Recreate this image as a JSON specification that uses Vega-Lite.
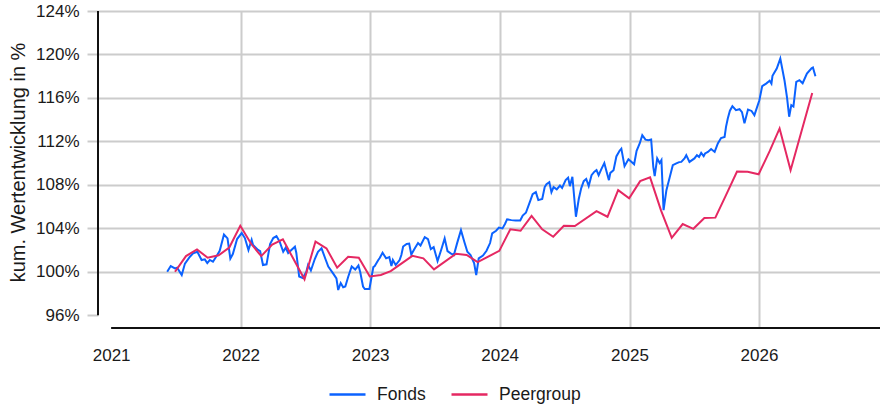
{
"$schema": "https://vega.github.io/schema/vega-lite/v6.json",
"width": 782, "height": 317,
"autosize": {"type": "none"},
"padding": {"left": 98, "top": 11, "right": 0, "bottom": 77},
"background": "white",
"config": {"view": {"stroke": null}, "font": "Liberation Sans"},
"datasets": {
"series": [
{"series":"Fonds","date":"2021-06-08","value":100.0},{"series":"Fonds","date":"2021-06-18","value":100.52},{"series":"Fonds","date":"2021-06-30","value":100.31},{"series":"Fonds","date":"2021-07-06","value":100.37},{"series":"Fonds","date":"2021-07-19","value":99.7},{"series":"Fonds","date":"2021-07-28","value":100.75},{"series":"Fonds","date":"2021-08-11","value":101.38},{"series":"Fonds","date":"2021-08-20","value":101.69},{"series":"Fonds","date":"2021-09-01","value":101.84},{"series":"Fonds","date":"2021-09-13","value":101.08},{"series":"Fonds","date":"2021-09-22","value":101.14},{"series":"Fonds","date":"2021-09-29","value":100.8},{"series":"Fonds","date":"2021-10-06","value":101.08},{"series":"Fonds","date":"2021-10-15","value":100.92},{"series":"Fonds","date":"2021-10-27","value":101.54},{"series":"Fonds","date":"2021-11-03","value":101.93},{"series":"Fonds","date":"2021-11-15","value":103.42},{"series":"Fonds","date":"2021-11-25","value":103.07},{"series":"Fonds","date":"2021-12-03","value":101.21},{"series":"Fonds","date":"2021-12-10","value":101.63},{"series":"Fonds","date":"2021-12-22","value":103.01},
{"series":"Fonds","date":"2022-01-04","value":103.56},{"series":"Fonds","date":"2022-01-13","value":103.1},{"series":"Fonds","date":"2022-01-23","value":102.0},{"series":"Fonds","date":"2022-02-01","value":102.94},{"series":"Fonds","date":"2022-02-05","value":102.46},{"series":"Fonds","date":"2022-02-19","value":102.0},{"series":"Fonds","date":"2022-02-25","value":101.9},{"series":"Fonds","date":"2022-03-05","value":100.62},{"series":"Fonds","date":"2022-03-15","value":100.68},{"series":"Fonds","date":"2022-03-25","value":102.55},{"series":"Fonds","date":"2022-04-03","value":103.1},{"series":"Fonds","date":"2022-04-12","value":103.28},{"series":"Fonds","date":"2022-04-21","value":102.76},{"series":"Fonds","date":"2022-05-01","value":101.84},{"series":"Fonds","date":"2022-05-08","value":102.21},{"series":"Fonds","date":"2022-05-15","value":101.72},{"series":"Fonds","date":"2022-05-24","value":102.0},{"series":"Fonds","date":"2022-06-03","value":102.3},{"series":"Fonds","date":"2022-06-07","value":101.72},{"series":"Fonds","date":"2022-06-15","value":99.56},{"series":"Fonds","date":"2022-06-25","value":99.42},{"series":"Fonds","date":"2022-07-05","value":99.97},{"series":"Fonds","date":"2022-07-10","value":100.62},{"series":"Fonds","date":"2022-07-18","value":100.11},{"series":"Fonds","date":"2022-07-29","value":101.17},{"series":"Fonds","date":"2022-08-07","value":101.84},{"series":"Fonds","date":"2022-08-17","value":102.15},{"series":"Fonds","date":"2022-08-28","value":101.17},{"series":"Fonds","date":"2022-09-05","value":100.48},{"series":"Fonds","date":"2022-09-19","value":99.83},{"series":"Fonds","date":"2022-09-28","value":99.39},{"series":"Fonds","date":"2022-10-03","value":98.32},{"series":"Fonds","date":"2022-10-10","value":98.96},{"series":"Fonds","date":"2022-10-17","value":98.57},{"series":"Fonds","date":"2022-10-23","value":98.64},{"series":"Fonds","date":"2022-10-31","value":99.51},{"series":"Fonds","date":"2022-11-10","value":100.48},{"series":"Fonds","date":"2022-11-20","value":100.2},{"series":"Fonds","date":"2022-11-29","value":100.57},{"series":"Fonds","date":"2022-12-04","value":99.97},{"series":"Fonds","date":"2022-12-12","value":98.64},{"series":"Fonds","date":"2022-12-17","value":98.41},{"series":"Fonds","date":"2022-12-30","value":98.41},
{"series":"Fonds","date":"2023-01-05","value":99.51},{"series":"Fonds","date":"2023-01-10","value":100.43},{"series":"Fonds","date":"2023-01-14","value":100.52},{"series":"Fonds","date":"2023-01-24","value":101.08},{"series":"Fonds","date":"2023-01-28","value":101.26},{"series":"Fonds","date":"2023-02-05","value":101.75},{"series":"Fonds","date":"2023-02-15","value":101.23},{"series":"Fonds","date":"2023-02-24","value":101.35},{"series":"Fonds","date":"2023-03-02","value":100.52},{"series":"Fonds","date":"2023-03-06","value":101.08},{"series":"Fonds","date":"2023-03-14","value":100.62},{"series":"Fonds","date":"2023-03-25","value":101.08},{"series":"Fonds","date":"2023-03-30","value":101.54},{"series":"Fonds","date":"2023-04-04","value":102.32},{"series":"Fonds","date":"2023-04-14","value":102.55},{"series":"Fonds","date":"2023-04-21","value":102.59},{"series":"Fonds","date":"2023-04-27","value":101.58},{"series":"Fonds","date":"2023-05-07","value":102.15},{"series":"Fonds","date":"2023-05-16","value":102.64},{"series":"Fonds","date":"2023-05-23","value":102.41},{"series":"Fonds","date":"2023-06-04","value":103.19},{"series":"Fonds","date":"2023-06-13","value":103.01},{"series":"Fonds","date":"2023-06-21","value":102.09},{"series":"Fonds","date":"2023-06-29","value":102.27},{"series":"Fonds","date":"2023-07-10","value":100.98},{"series":"Fonds","date":"2023-07-21","value":102.09},{"series":"Fonds","date":"2023-07-30","value":103.07},{"series":"Fonds","date":"2023-08-07","value":101.9},{"series":"Fonds","date":"2023-08-17","value":101.67},{"series":"Fonds","date":"2023-08-25","value":101.54},{"series":"Fonds","date":"2023-09-03","value":102.61},{"series":"Fonds","date":"2023-09-14","value":103.83},{"series":"Fonds","date":"2023-09-24","value":102.69},{"series":"Fonds","date":"2023-10-02","value":101.84},{"series":"Fonds","date":"2023-10-11","value":101.54},{"series":"Fonds","date":"2023-10-21","value":100.8},{"series":"Fonds","date":"2023-10-27","value":99.7},{"series":"Fonds","date":"2023-11-03","value":101.23},{"series":"Fonds","date":"2023-11-15","value":101.49},{"series":"Fonds","date":"2023-11-25","value":101.93},{"series":"Fonds","date":"2023-12-05","value":102.64},{"series":"Fonds","date":"2023-12-11","value":103.53},{"series":"Fonds","date":"2023-12-22","value":103.77},{"series":"Fonds","date":"2023-12-30","value":104.06},
{"series":"Fonds","date":"2024-01-09","value":103.99},{"series":"Fonds","date":"2024-01-16","value":104.39},{"series":"Fonds","date":"2024-01-22","value":104.82},{"series":"Fonds","date":"2024-02-03","value":104.75},{"series":"Fonds","date":"2024-02-15","value":104.71},{"series":"Fonds","date":"2024-02-28","value":104.71},{"series":"Fonds","date":"2024-03-06","value":105.17},{"series":"Fonds","date":"2024-03-15","value":105.43},{"series":"Fonds","date":"2024-03-27","value":106.5},{"series":"Fonds","date":"2024-04-03","value":107.14},{"series":"Fonds","date":"2024-04-12","value":107.33},{"series":"Fonds","date":"2024-04-19","value":106.59},{"series":"Fonds","date":"2024-04-30","value":106.69},{"series":"Fonds","date":"2024-05-07","value":107.79},{"series":"Fonds","date":"2024-05-12","value":108.06},{"series":"Fonds","date":"2024-05-20","value":108.25},{"series":"Fonds","date":"2024-05-26","value":107.33},{"series":"Fonds","date":"2024-06-01","value":107.79},{"series":"Fonds","date":"2024-06-10","value":107.58},{"series":"Fonds","date":"2024-06-19","value":107.93},{"series":"Fonds","date":"2024-06-25","value":107.72},{"series":"Fonds","date":"2024-07-05","value":108.43},{"series":"Fonds","date":"2024-07-12","value":108.66},{"series":"Fonds","date":"2024-07-17","value":107.88},{"series":"Fonds","date":"2024-07-24","value":108.74},{"series":"Fonds","date":"2024-08-03","value":105.06},{"series":"Fonds","date":"2024-08-11","value":106.69},{"series":"Fonds","date":"2024-08-18","value":107.7},{"series":"Fonds","date":"2024-08-25","value":108.34},{"series":"Fonds","date":"2024-09-01","value":108.54},{"series":"Fonds","date":"2024-09-08","value":107.88},{"series":"Fonds","date":"2024-09-16","value":108.89},{"series":"Fonds","date":"2024-09-24","value":109.21},{"series":"Fonds","date":"2024-09-30","value":109.35},{"series":"Fonds","date":"2024-10-06","value":108.89},{"series":"Fonds","date":"2024-10-13","value":109.4},{"series":"Fonds","date":"2024-10-22","value":110.0},{"series":"Fonds","date":"2024-10-30","value":109.01},{"series":"Fonds","date":"2024-11-04","value":108.43},{"series":"Fonds","date":"2024-11-08","value":109.1},{"series":"Fonds","date":"2024-11-17","value":109.35},{"series":"Fonds","date":"2024-11-25","value":110.61},{"series":"Fonds","date":"2024-12-04","value":111.14},{"series":"Fonds","date":"2024-12-09","value":111.33},{"series":"Fonds","date":"2024-12-18","value":109.72},{"series":"Fonds","date":"2024-12-29","value":110.36},
{"series":"Fonds","date":"2025-01-07","value":110.11},{"series":"Fonds","date":"2025-01-14","value":109.9},{"series":"Fonds","date":"2025-01-21","value":111.13},{"series":"Fonds","date":"2025-01-26","value":111.51},{"series":"Fonds","date":"2025-01-30","value":111.83},{"series":"Fonds","date":"2025-02-06","value":112.57},{"series":"Fonds","date":"2025-02-15","value":112.16},{"series":"Fonds","date":"2025-02-23","value":112.11},{"series":"Fonds","date":"2025-03-03","value":112.17},{"series":"Fonds","date":"2025-03-09","value":109.66},{"series":"Fonds","date":"2025-03-13","value":108.8},{"series":"Fonds","date":"2025-03-20","value":110.43},{"series":"Fonds","date":"2025-03-27","value":110.0},{"series":"Fonds","date":"2025-04-01","value":110.27},{"series":"Fonds","date":"2025-04-07","value":105.67},{"series":"Fonds","date":"2025-04-15","value":107.51},{"series":"Fonds","date":"2025-04-24","value":108.66},{"series":"Fonds","date":"2025-05-03","value":109.81},{"series":"Fonds","date":"2025-05-13","value":109.97},{"series":"Fonds","date":"2025-05-21","value":110.09},{"series":"Fonds","date":"2025-05-27","value":110.11},{"series":"Fonds","date":"2025-06-05","value":110.43},{"series":"Fonds","date":"2025-06-10","value":110.73},{"series":"Fonds","date":"2025-06-19","value":110.11},{"series":"Fonds","date":"2025-07-03","value":110.43},{"series":"Fonds","date":"2025-07-10","value":110.73},{"series":"Fonds","date":"2025-07-16","value":110.57},{"series":"Fonds","date":"2025-07-22","value":110.94},{"series":"Fonds","date":"2025-07-29","value":110.64},{"series":"Fonds","date":"2025-08-02","value":110.89},{"series":"Fonds","date":"2025-08-10","value":111.03},{"series":"Fonds","date":"2025-08-19","value":111.3},{"series":"Fonds","date":"2025-08-29","value":111.03},{"series":"Fonds","date":"2025-09-07","value":111.81},{"series":"Fonds","date":"2025-09-16","value":112.31},{"series":"Fonds","date":"2025-09-26","value":112.41},{"series":"Fonds","date":"2025-09-30","value":113.33},{"series":"Fonds","date":"2025-10-05","value":114.11},{"series":"Fonds","date":"2025-10-11","value":114.82},{"series":"Fonds","date":"2025-10-18","value":115.24},{"series":"Fonds","date":"2025-10-28","value":114.87},{"series":"Fonds","date":"2025-11-07","value":114.96},{"series":"Fonds","date":"2025-11-14","value":114.69},{"series":"Fonds","date":"2025-11-21","value":113.67},{"series":"Fonds","date":"2025-12-01","value":114.93},{"series":"Fonds","date":"2025-12-11","value":114.8},{"series":"Fonds","date":"2025-12-19","value":114.41},
{"series":"Fonds","date":"2026-01-02","value":115.79},{"series":"Fonds","date":"2026-01-10","value":117.08},{"series":"Fonds","date":"2026-01-21","value":117.32},{"series":"Fonds","date":"2026-01-31","value":117.58},{"series":"Fonds","date":"2026-02-05","value":117.32},{"series":"Fonds","date":"2026-02-08","value":118.04},{"series":"Fonds","date":"2026-02-20","value":118.7},{"series":"Fonds","date":"2026-03-02","value":119.62},{"series":"Fonds","date":"2026-03-14","value":117.58},{"series":"Fonds","date":"2026-03-21","value":116.02},{"series":"Fonds","date":"2026-03-27","value":114.27},{"series":"Fonds","date":"2026-04-02","value":115.33},{"series":"Fonds","date":"2026-04-08","value":115.21},{"series":"Fonds","date":"2026-04-16","value":117.47},{"series":"Fonds","date":"2026-04-25","value":117.63},{"series":"Fonds","date":"2026-05-04","value":117.35},{"series":"Fonds","date":"2026-05-16","value":118.24},{"series":"Fonds","date":"2026-05-29","value":118.73},{"series":"Fonds","date":"2026-06-02","value":118.8},{"series":"Fonds","date":"2026-06-09","value":117.99},
{"series":"Peergroup","date":"2021-06-30","value":100.0},{"series":"Peergroup","date":"2021-07-31","value":101.44},{"series":"Peergroup","date":"2021-08-31","value":102.06},{"series":"Peergroup","date":"2021-09-30","value":101.29},{"series":"Peergroup","date":"2021-10-31","value":101.51},{"series":"Peergroup","date":"2021-11-30","value":102.23},{"series":"Peergroup","date":"2021-12-31","value":104.23},{"series":"Peergroup","date":"2022-01-31","value":102.55},{"series":"Peergroup","date":"2022-02-28","value":101.44},{"series":"Peergroup","date":"2022-03-31","value":102.5},{"series":"Peergroup","date":"2022-04-30","value":102.98},{"series":"Peergroup","date":"2022-06-30","value":99.3},{"series":"Peergroup","date":"2022-07-31","value":102.78},{"series":"Peergroup","date":"2022-08-31","value":102.15},{"series":"Peergroup","date":"2022-09-30","value":100.37},{"series":"Peergroup","date":"2022-10-31","value":101.38},{"series":"Peergroup","date":"2022-11-30","value":101.29},{"series":"Peergroup","date":"2022-12-31","value":99.56},{"series":"Peergroup","date":"2023-01-31","value":99.7},{"series":"Peergroup","date":"2023-02-28","value":100.06},{"series":"Peergroup","date":"2023-04-30","value":101.46},{"series":"Peergroup","date":"2023-05-31","value":101.23},{"series":"Peergroup","date":"2023-06-30","value":100.22},{"series":"Peergroup","date":"2023-08-31","value":101.66},{"series":"Peergroup","date":"2023-09-30","value":101.54},{"series":"Peergroup","date":"2023-10-31","value":100.89},{"series":"Peergroup","date":"2023-12-31","value":101.92},{"series":"Peergroup","date":"2024-01-31","value":103.9},{"series":"Peergroup","date":"2024-02-29","value":103.77},{"series":"Peergroup","date":"2024-03-31","value":105.14},{"series":"Peergroup","date":"2024-04-30","value":103.9},{"series":"Peergroup","date":"2024-05-31","value":103.22},{"series":"Peergroup","date":"2024-06-30","value":104.22},{"series":"Peergroup","date":"2024-07-31","value":104.2},{"series":"Peergroup","date":"2024-09-30","value":105.58},{"series":"Peergroup","date":"2024-10-31","value":105.06},{"series":"Peergroup","date":"2024-11-30","value":107.51},{"series":"Peergroup","date":"2024-12-31","value":106.75},{"series":"Peergroup","date":"2025-01-31","value":108.34},{"series":"Peergroup","date":"2025-02-28","value":108.69},{"series":"Peergroup","date":"2025-03-31","value":105.63},{"series":"Peergroup","date":"2025-04-30","value":103.12},{"series":"Peergroup","date":"2025-05-31","value":104.39},{"series":"Peergroup","date":"2025-06-30","value":103.95},{"series":"Peergroup","date":"2025-07-31","value":104.94},{"series":"Peergroup","date":"2025-08-31","value":104.98},{"series":"Peergroup","date":"2025-09-30","value":107.05},{"series":"Peergroup","date":"2025-10-31","value":109.23},{"series":"Peergroup","date":"2025-11-30","value":109.21},{"series":"Peergroup","date":"2025-12-31","value":108.97},{"series":"Peergroup","date":"2026-01-31","value":111.1},{"series":"Peergroup","date":"2026-02-28","value":113.19},{"series":"Peergroup","date":"2026-03-31","value":109.35},{"series":"Peergroup","date":"2026-05-31","value":116.46}
],
"yline": [{"date":"2020-11-25","value":96,"value2":124}],
"xline": [{"date":"2021-01-01","date2":"2026-12-08","value":94.82}]
},
"layer": [
{
"data": {"name": "series"},
"mark": {"type": "line", "strokeWidth": 2, "clip": true},
"encoding": {
"x": {"field": "date", "type": "temporal",
"scale": {"domain": ["2020-11-25", "2026-12-08"]},
"axis": {"title": null, "format": "%Y", "tickCount": {"interval": "year", "step": 1}, "domain": false, "ticks": false,
"grid": true, "gridWidth": 2, "gridColor": {"condition": {"test": "year(datum.value) == 2021", "value": "transparent"}, "value": "#cccccc"},
"labelFontSize": 17, "labelColor": "#1a1a1a", "labelPadding": 19, "labelFlush": false}},
"y": {"field": "value", "type": "quantitative",
"scale": {"domain": [94.82, 124], "nice": false, "zero": false},
"axis": {"values": [96, 100, 104, 108, 112, 116, 120, 124], "labelExpr": "datum.value + '%'", "domain": false,
"ticks": true, "tickSize": 11, "tickWidth": 2, "tickColor": "#cccccc",
"grid": true, "gridWidth": 2, "gridColor": {"condition": {"test": "datum.value == 96", "value": "transparent"}, "value": "#cccccc"},
"labelFontSize": 17, "labelColor": "#1a1a1a", "labelPadding": 8,
"title": "kum. Wertentwicklung in %", "titleFontSize": 20, "titleFontWeight": "normal", "titleColor": "#1a1a1a",
"titleAngle": -90, "titleX": -80, "titleY": 151, "titleAlign": "center", "titleBaseline": "middle"}},
"color": {"field": "series", "type": "nominal",
"scale": {"domain": ["Fonds", "Peergroup"], "range": ["#0b62ff", "#e52862"]},
"legend": {"title": null, "orient": "none", "legendX": 230, "legendY": 364, "direction": "horizontal",
"symbolType": "stroke", "symbolSize": 1296, "symbolStrokeWidth": 2.5,
"labelFontSize": 17.5, "labelColor": "#1a1a1a", "labelOffset": 10, "columnPadding": 20}}
}
},
{
"data": {"name": "yline"},
"mark": {"type": "rule", "color": "#111111", "strokeWidth": 2},
"encoding": {"x": {"field": "date", "type": "temporal"}, "y": {"field": "value", "type": "quantitative"}, "y2": {"field": "value2"}}
},
{
"data": {"name": "xline"},
"mark": {"type": "rule", "color": "#111111", "strokeWidth": 2},
"encoding": {"x": {"field": "date", "type": "temporal"}, "x2": {"field": "date2"}, "y": {"field": "value", "type": "quantitative"}}
}
]
}
